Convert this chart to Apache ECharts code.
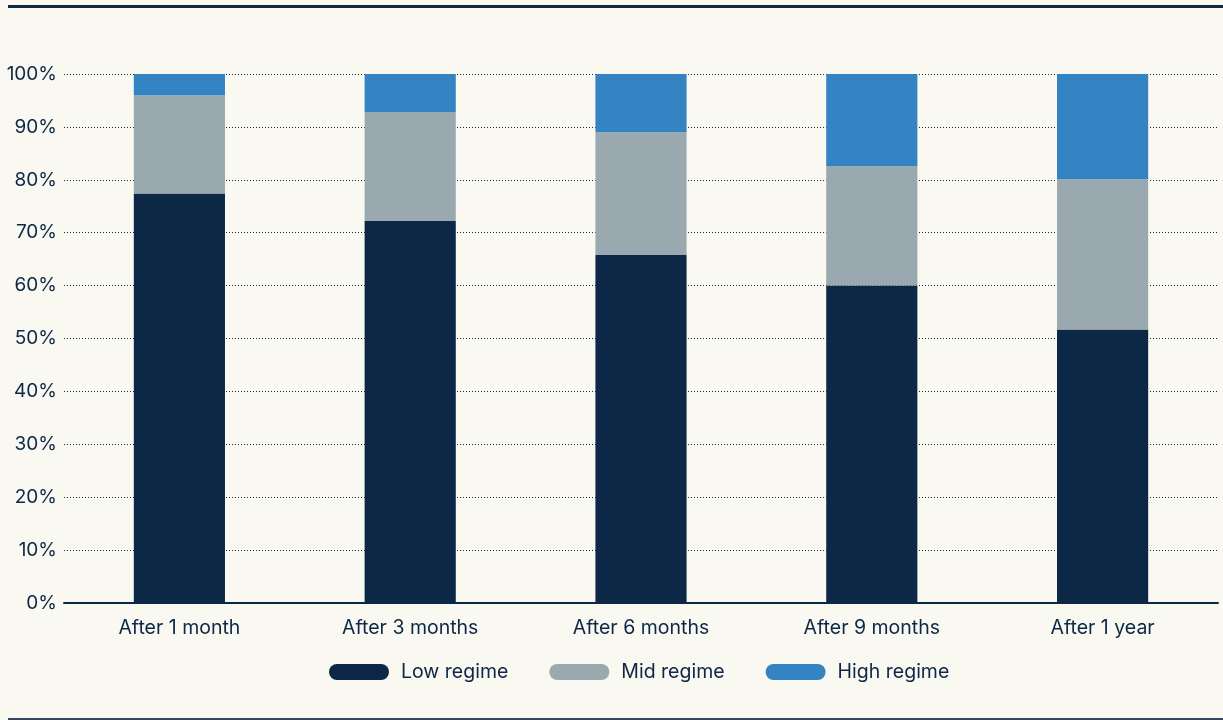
<!DOCTYPE html>
<html>
<head>
<meta charset="utf-8">
<script src="https://cdn.jsdelivr.net/npm/echarts@6/dist/echarts.min.js"></script>
<style>
  html, body { margin: 0; padding: 0; background: #f9f8f1; }
  #chart { width: 1223px; height: 720px; }
</style>
</head>
<body>
<div id="chart"></div>
<script>
// Share of outcomes by regime at each horizon (percent)
const categories = ['After 1 month', 'After 3 months', 'After 6 months', 'After 9 months', 'After 1 year'];
const lowRegime  = [77.4, 72.2, 65.8, 60.0, 51.7];
const midRegime  = [18.6, 20.6, 23.2, 22.6, 28.4];
const highRegime = [4.0, 7.2, 11.0, 17.4, 19.9];
const seriesNames = ['Low regime', 'Mid regime', 'High regime'];

const navy = '#0d2847';
const colors = ['#0d2847', '#9aa9af', '#3483c3'];
const font = 'Inter, "Noto Sans", sans-serif';
// pill-shaped legend marker
const pill = 'path://M8,0 L52,0 A8,8 0 0 1 52,16 L8,16 A8,8 0 0 1 8,0 Z';

const chart = echarts.init(document.getElementById('chart'));

const makeBar = (name, data, color) => ({
  name, type: 'bar', stack: 'total', data,
  barWidth: '39.5%',
  itemStyle: { color },
  emphasis: { disabled: true }
});

chart.setOption({
  backgroundColor: '#f9f8f1',
  animation: false,
  textStyle: { fontFamily: font, color: navy },
  grid: { left: 64, right: 5, top: 74, bottom: 117 },
  legend: {
    data: seriesNames,
    top: 662,
    left: 329,
    padding: 0,
    itemWidth: 60,
    itemHeight: 16,
    itemGap: 41,
    icon: pill,
    textStyle: { fontFamily: font, fontSize: 19.5, color: navy, padding: [0, 0, 0, 7] }
  },
  xAxis: {
    type: 'category',
    data: categories,
    axisLine: { lineStyle: { color: navy, width: 2 } },
    axisTick: { show: false },
    axisLabel: { fontSize: 19.5, color: navy, margin: 15, fontFamily: font }
  },
  yAxis: {
    type: 'value',
    min: 0, max: 100, interval: 10,
    axisLine: { show: false },
    axisTick: { show: false },
    axisLabel: { formatter: '{value}%', fontSize: 19, color: navy, margin: 7, fontFamily: font },
    splitLine: { lineStyle: { color: navy, type: [1, 2], width: 1 } }
  },
  series: [
    makeBar(seriesNames[0], lowRegime, colors[0]),
    makeBar(seriesNames[1], midRegime, colors[1]),
    makeBar(seriesNames[2], highRegime, colors[2])
  ],
  graphic: [
    { type: 'rect', shape: { x: 8, y: 5, width: 1215, height: 3 }, style: { fill: navy }, silent: true },
    { type: 'rect', shape: { x: 8, y: 718, width: 1215, height: 2 }, style: { fill: '#34495e' }, silent: true }
  ]
});
</script>
</body>
</html>
